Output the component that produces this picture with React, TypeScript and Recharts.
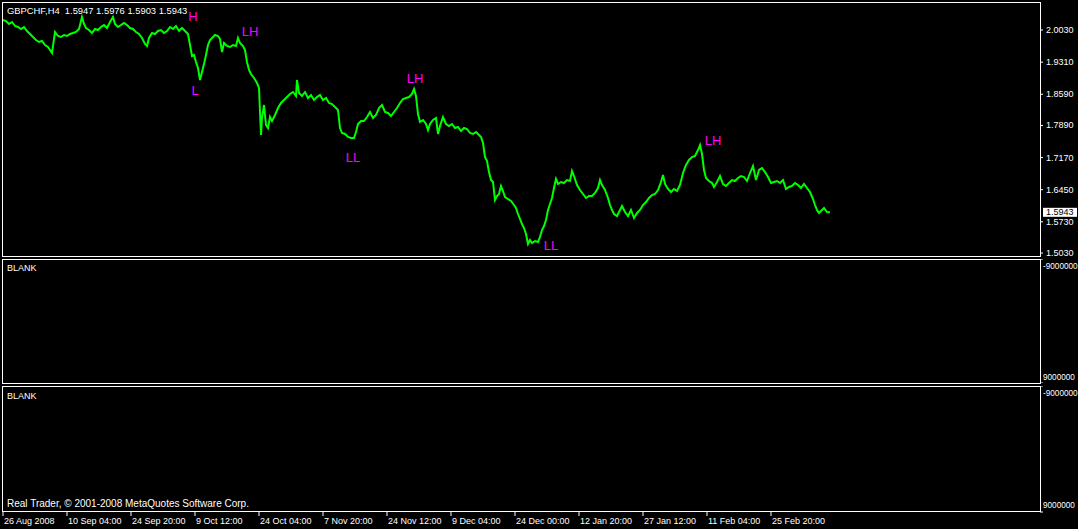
import { ComposedChart, Line, Scatter, XAxis, YAxis, ReferenceLine } from "recharts";

const symbol = "GBPCHF,H4";
const ohlc = ["1.5947", "1.5976", "1.5903", "1.5943"];
const copyright = "Real Trader, © 2001-2008 MetaQuotes Software Corp.";

// [H4 bar number counted from 26 Aug 2008 00:00, close]
const closes: [number, number][] = [
  [0, 2.0255], [3, 2.0232], [6, 2.0165], [9, 2.021], [12, 2.012], [15, 2.0098], [18, 2.0053], [21, 2.0098], [24, 2.0008], [27, 1.9941],
  [30, 1.9874], [33, 1.9806], [36, 1.9761], [39, 1.9784], [42, 1.9694], [45, 1.9649], [47, 1.9582], [49, 1.9515], [52, 1.9986], [55, 1.9896],
  [58, 1.9874], [61, 1.9918], [64, 1.9896], [67, 1.9941], [70, 1.9963], [73, 1.9986], [76, 2.0053], [79, 2.0322], [81, 2.0165], [83, 2.0075],
  [86, 2.003], [89, 1.9963], [92, 2.0053], [95, 2.003], [98, 2.0098], [101, 2.0143], [104, 2.0075], [107, 2.021], [110, 2.0322], [112, 2.0165],
  [115, 2.0098], [118, 2.0143], [121, 2.0187], [124, 2.0143], [127, 2.0075], [130, 2.0053], [133, 1.9986], [136, 1.9941], [139, 1.9851], [142, 1.9717],
  [144, 1.9672], [146, 1.9851], [149, 1.9963], [152, 1.9941], [155, 2.0008], [158, 2.003], [161, 1.9963], [164, 2.0008], [167, 2.0098], [170, 2.0053],
  [173, 2.012], [176, 2.0008], [179, 2.0075], [182, 2.0008], [185, 1.9941], [187, 1.9694], [189, 1.9448], [191, 1.947], [193, 1.9313], [195, 1.9178],
  [197, 1.8909], [199, 1.9089], [201, 1.9268], [203, 1.947], [205, 1.9694], [207, 1.9806], [209, 1.9851], [212, 1.9918], [215, 1.9896], [217, 1.9829],
  [219, 1.9537], [221, 1.9739], [224, 1.9672], [227, 1.9649], [230, 1.9694], [233, 1.9672], [235, 1.9851], [237, 1.9739], [240, 1.9672], [242, 1.9582],
  [244, 1.9313], [246, 1.9134], [248, 1.9044], [251, 1.8954], [254, 1.8842], [256, 1.873], [258, 1.7676], [259, 1.8057], [261, 1.8349], [263, 1.7901],
  [265, 1.7833], [267, 1.808], [269, 1.799], [272, 1.8125], [275, 1.8282], [278, 1.8394], [281, 1.8461], [284, 1.8528], [287, 1.8596], [290, 1.864],
  [293, 1.8551], [294, 1.8909], [296, 1.8618], [299, 1.8551], [302, 1.864], [305, 1.8506], [308, 1.8573], [311, 1.8461], [314, 1.8528], [317, 1.8573],
  [320, 1.8461], [323, 1.8506], [326, 1.8394], [329, 1.8371], [332, 1.8304], [335, 1.8237], [337, 1.7833], [339, 1.7721], [342, 1.7699], [345, 1.7632],
  [348, 1.7609], [351, 1.7609], [353, 1.7744], [355, 1.7923], [358, 1.799], [361, 1.799], [364, 1.808], [367, 1.8192], [370, 1.8057], [373, 1.8125],
  [376, 1.8282], [379, 1.8349], [382, 1.8192], [385, 1.817], [388, 1.8102], [391, 1.8192], [394, 1.8282], [397, 1.8394], [400, 1.8483], [403, 1.8506],
  [406, 1.8528], [409, 1.8596], [411, 1.8708], [413, 1.8551], [415, 1.8147], [417, 1.7968], [420, 1.8013], [423, 1.7923], [425, 1.7788], [427, 1.7923],
  [430, 1.8013], [433, 1.8057], [435, 1.7699], [437, 1.7878], [440, 1.808], [443, 1.7923], [446, 1.7878], [449, 1.7923], [452, 1.7833], [455, 1.7856],
  [458, 1.7766], [461, 1.7833], [464, 1.7811], [467, 1.7721], [470, 1.7699], [473, 1.7744], [476, 1.7676], [478, 1.7632], [480, 1.7497], [482, 1.7183],
  [484, 1.7093], [486, 1.6847], [488, 1.6667], [490, 1.6623], [492, 1.6219], [494, 1.6309], [496, 1.6354], [498, 1.6533], [500, 1.6421], [502, 1.6286],
  [505, 1.6241], [508, 1.6197], [511, 1.6107], [513, 1.604], [515, 1.5905], [517, 1.5793], [519, 1.5681], [521, 1.5591], [523, 1.5457], [525, 1.5233],
  [527, 1.5322], [529, 1.5255], [532, 1.53], [535, 1.5277], [537, 1.539], [539, 1.5546], [541, 1.5636], [543, 1.5771], [545, 1.5995], [547, 1.6129],
  [549, 1.6264], [551, 1.6488], [553, 1.669], [555, 1.6578], [558, 1.6623], [561, 1.66], [564, 1.6667], [567, 1.6645], [569, 1.6869], [571, 1.6757],
  [574, 1.6555], [577, 1.6443], [580, 1.6354], [583, 1.6264], [586, 1.6309], [589, 1.6309], [592, 1.6376], [595, 1.6488], [597, 1.6667], [599, 1.6555],
  [602, 1.6443], [605, 1.6264], [607, 1.6107], [609, 1.5995], [611, 1.5905], [614, 1.586], [617, 1.5995], [619, 1.6085], [622, 1.595], [625, 1.586],
  [628, 1.5995], [631, 1.5815], [634, 1.5928], [637, 1.5995], [640, 1.6107], [643, 1.6174], [646, 1.6264], [649, 1.6331], [652, 1.6354], [655, 1.6443],
  [658, 1.6623], [660, 1.678], [662, 1.6578], [665, 1.6466], [668, 1.6398], [671, 1.6466], [674, 1.6421], [677, 1.6555], [680, 1.6824], [683, 1.7004],
  [686, 1.7116], [689, 1.7183], [692, 1.7206], [695, 1.734], [697, 1.7452], [699, 1.725], [701, 1.6892], [703, 1.6712], [706, 1.6645], [709, 1.66],
  [711, 1.651], [714, 1.6623], [717, 1.6757], [720, 1.6578], [723, 1.6533], [726, 1.66], [729, 1.6667], [732, 1.6645], [735, 1.6712], [738, 1.6757],
  [741, 1.6735], [744, 1.6645], [747, 1.6824], [750, 1.6981], [753, 1.6667], [756, 1.6892], [759, 1.6936], [762, 1.6847], [765, 1.6735], [768, 1.66],
  [771, 1.6623], [774, 1.6645], [777, 1.66], [780, 1.6667], [783, 1.6466], [786, 1.651], [789, 1.6533], [792, 1.66], [795, 1.6555], [798, 1.6488],
  [801, 1.6578], [804, 1.6488], [807, 1.6398], [810, 1.6241], [812, 1.6107], [814, 1.5995], [816, 1.5928], [818, 1.5972], [821, 1.604], [824, 1.595],
  [827, 1.5943],
];

const priceTicks = [2.003, 1.931, 1.859, 1.789, 1.717, 1.645, 1.573, 1.503];
const priceDomain = [1.49635, 2.06582];
const lastClose = 1.5943;

const timeTickBars = [0, 64, 128, 192, 256, 320, 384, 448, 512, 576, 640, 704, 768];
const timeTickLabels = [
  "26 Aug 2008", "10 Sep 04:00", "24 Sep 20:00", "9 Oct 12:00", "24 Oct 04:00", "7 Nov 20:00", "24 Nov 12:00",
  "9 Dec 04:00", "24 Dec 00:00", "12 Jan 20:00", "27 Jan 12:00", "11 Feb 04:00", "25 Feb 20:00",
];
const barDomain = [-1, 1037];

const swingLabels = ["H", "L", "LH", "LL", "LH", "LL", "LH"];
const swingBars = [190, 192, 247, 350, 412, 548, 710];
const swingPrices = [2.0322, 1.8663, 2.0008, 1.7161, 1.8932, 1.5188, 1.7564];

const blankTicks = [-9000000, 9000000];
const blankDomain = [-9000000, 9000000];

const series = closes.map(([bar, close]) => ({ bar, close }));
const swings = swingLabels.map((label, i) => ({ label, bar: swingBars[i], price: swingPrices[i] }));
const blankData = barDomain.map((bar) => ({ bar }));

const FONT = '"Liberation Sans", Arial, sans-serif';

const PriceTick = ({ x, y, payload }: any) => (
  <text x={x} y={y} fill="#fff" fontSize={9} fontFamily={FONT} dominantBaseline="central">
    {payload.value.toFixed(4)}
  </text>
);

const PriceTag = ({ viewBox }: any) => {
  const x = viewBox.x + viewBox.width + 3;
  const y = viewBox.y;
  return (
    <g>
      <rect x={x} y={y - 4.5} width={34} height={9} fill="#fff" />
      <text x={x + 3} y={y} fill="#000" fontSize={9} fontFamily={FONT} dominantBaseline="central">
        {lastClose.toFixed(4)}
      </text>
    </g>
  );
};

const SwingText = (props: any) => (
  <text x={props.cx} y={props.cy} fill="#ff00ff" fontSize={13} fontFamily={FONT} textAnchor="middle" dominantBaseline="central">
    {props.payload.label}
  </text>
);

const BlankTick = ({ x, y, payload, bottomShift }: any) => (
  <text x={x} y={payload.value < 0 ? y + 7 : y - bottomShift} fill="#fff" fontSize={8.2} fontFamily={FONT} dominantBaseline="central">
    {String(payload.value)}
  </text>
);

const TimeTick = ({ x, y, payload }: any) => (
  <text x={x + 1} y={y + 5} fill="#fff" fontSize={9} fontFamily={FONT} dominantBaseline="central">
    {timeTickLabels[timeTickBars.indexOf(payload.value)]}
  </text>
);

const box = (top: number, height: number) => ({
  position: "absolute" as const,
  left: 2,
  top,
  width: 1039,
  height,
  boxSizing: "border-box" as const,
  border: "1px solid #fff",
  pointerEvents: "none" as const,
});

const note = (top: number, size: number) => ({
  position: "absolute" as const,
  left: 7,
  top,
  color: "#fff",
  fontSize: size,
  lineHeight: "10px",
  fontFamily: FONT,
  whiteSpace: "pre" as const,
});

function BlankPanel({ height, bottomShift, withTime }: { height: number; bottomShift: number; withTime: boolean }) {
  return (
    <ComposedChart width={1078} height={height} data={blankData} margin={{ top: 0, right: 0, bottom: 0, left: 2 }}>
      <XAxis
        type="number"
        dataKey="bar"
        domain={barDomain}
        hide={!withTime}
        ticks={timeTickBars}
        interval={0}
        height={17}
        axisLine={false}
        tickLine={{ stroke: "#fff" }}
        tickSize={4}
        tickMargin={0}
        tick={<TimeTick />}
        allowDataOverflow
      />
      <YAxis
        type="number"
        orientation="right"
        width={38}
        domain={blankDomain}
        allowDataOverflow
        reversed
        ticks={blankTicks}
        interval={0}
        axisLine={false}
        tickLine={{ stroke: "#fff" }}
        tickSize={3}
        tickMargin={0}
        tick={<BlankTick bottomShift={bottomShift} />}
      />
      <Line dataKey="value" stroke="#00ff00" dot={false} isAnimationActive={false} />
    </ComposedChart>
  );
}

export default function App() {
  return (
    <div style={{ position: "fixed", left: 0, top: 0, width: 1078, height: 529, background: "#000", overflow: "hidden" }}>
      <div style={{ position: "absolute", left: 0, top: 0 }}>
        <ComposedChart width={1078} height={258} data={series} margin={{ top: 2, right: 0, bottom: 2, left: 2 }}>
          <XAxis type="number" dataKey="bar" domain={barDomain} hide allowDataOverflow />
          <YAxis
            orientation="right"
            width={38}
            domain={priceDomain}
            ticks={priceTicks}
            interval={0}
            allowDataOverflow
            axisLine={false}
            tickLine={{ stroke: "#fff" }}
            tickSize={3}
            tickMargin={3}
            tick={<PriceTick />}
          />
          <Line type="linear" dataKey="close" stroke="#00ff00" strokeWidth={2} dot={false} isAnimationActive={false} />
          <Scatter data={swings} dataKey="price" shape={<SwingText />} isAnimationActive={false} />
          <ReferenceLine y={lastClose} strokeOpacity={0} label={<PriceTag />} />
        </ComposedChart>
      </div>

      <div style={{ position: "absolute", left: 0, top: 259 }}>
        <BlankPanel height={124} bottomShift={6} withTime={false} />
      </div>

      <div style={{ position: "absolute", left: 0, top: 386 }}>
        <BlankPanel height={143} bottomShift={7} withTime={true} />
      </div>

      <div style={box(2, 255)} />
      <div style={box(259, 125)} />
      <div style={box(386, 126)} />

      <div style={note(6, 9.4)}>{`${symbol}  ${ohlc.join(" ")}`}</div>
      <div style={note(263, 9)}>BLANK</div>
      <div style={note(391, 9)}>BLANK</div>
      <div style={note(499, 10)}>{copyright}</div>
    </div>
  );
}
